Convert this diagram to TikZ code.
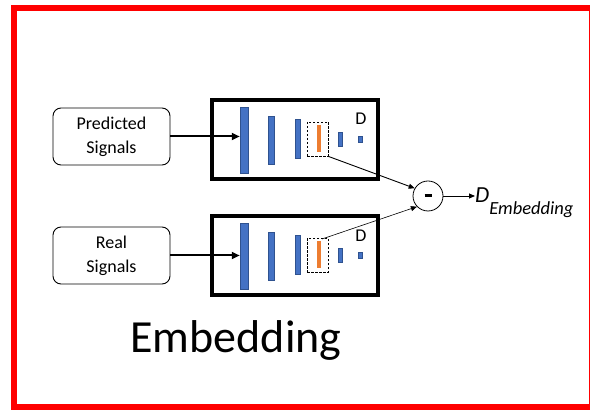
\documentclass[tikz,border=0pt]{standalone}
\usepackage{fontspec}
\setmainfont{Carlito}
\usetikzlibrary{arrows.meta,calc}
\definecolor{barblue}{HTML}{4472C4}
\definecolor{barblueedge}{HTML}{2F528F}
\definecolor{barorange}{HTML}{ED7D31}
\tikzset{
  frame/.style={draw=red,line width=6pt},
  netbox/.style={draw,line width=4pt,minimum width=166pt,minimum height=79pt,inner sep=0pt},
  inbox/.style={draw,line width=0.9pt,rounded corners=8pt,minimum width=117pt,minimum height=57pt,
    align=center,font=\fontsize{18}{24}\selectfont},
  bar/.style={fill=barblue,draw=barblueedge,line width=0.5pt,inner sep=0pt},
  obar/.style={fill=barorange,draw=none,inner sep=0pt},
  dashbox/.style={draw,dashed,line width=0.8pt,inner sep=0pt,dash pattern=on 2.5pt off 1.5pt},
  feed/.style={line width=2pt,-{Triangle[length=8pt,width=7pt]}},
  thin arrow/.style={-{Triangle[length=6pt,width=5pt]}},
}
\begin{document}
\begin{tikzpicture}[x=1pt,y=-1pt]
  \useasboundingbox (0,0) rectangle (590,411);
  \fill[white] (0,0) rectangle (590,411);
  \begin{scope}
    \clip (0,0) rectangle (590,411);
    \draw[frame] (14,8.5) rectangle (592,407.5);
  \end{scope}

  % two identical embedding networks: predicted (p) and real (r)
  \foreach \r/\cy in {p/139.5, r/256}{
    \node[netbox] (\r-box) at (295,\cy) {};
    \node[bar,minimum width=8pt,minimum height=66pt] (\r-bar1) at (244,\cy+0.5) {};
    \node[bar,minimum width=6pt,minimum height=48pt] (\r-bar2) at (271,\cy+0.5) {};
    \node[bar,minimum width=5pt,minimum height=39pt] (\r-bar3) at (297.5,\cy-1) {};
    \node[dashbox,minimum width=21pt,minimum height=34pt] (\r-dash) at (317.5,\cy-0.5) {};
    \node[obar,minimum width=4pt,minimum height=27pt] (\r-feat) at (319,\cy-1) {};
    \node[bar,minimum width=4pt,minimum height=14pt] (\r-bar4) at (340,\cy-0.5) {};
    \node[bar,minimum width=4pt,minimum height=6pt] (\r-bar5) at (360,\cy-0.5) {};
    \node[font=\fontsize{18}{18}\selectfont,inner sep=0pt] (\r-D) at (361,\cy-20.5) {D};
  }

  \node[inbox] (pred) at (111.5,136.5) {Predicted\\Signals};
  \node[inbox] (real) at (111.5,255.5) {Real\\Signals};

  \draw[feed] (pred.east) -- (pred.east -| p-bar1.west);
  \draw[feed] (real.east) -- (real.east -| r-bar1.west);

  % difference of the two feature vectors
  \node[draw,circle,line width=0.8pt,minimum size=30pt,inner sep=0pt] (minus) at (428,196)
    {\rule[-1.5pt]{7pt}{3pt}};
  \coordinate (r-start) at (322,239);
  \draw[thin arrow,line width=0.9pt] (p-dash.south east) -- (minus.150);
  \draw[thin arrow,line width=0.6pt] (r-start) -- (minus.224);

  \node[anchor=base west,inner sep=0pt,font=\fontsize{23}{23}\selectfont\itshape] (dist) at (475,203)
    {D\raisebox{-12pt}{\fontsize{18.5}{18.5}\selectfont Embedding}};
  \draw[thin arrow,line width=0.9pt] (minus.east) -- (dist.west |- minus.east);

  \node[anchor=base,inner sep=0pt,font=\fontsize{46}{46}\selectfont] (title) at (236,353) {Embedding};
\end{tikzpicture}
\end{document}
